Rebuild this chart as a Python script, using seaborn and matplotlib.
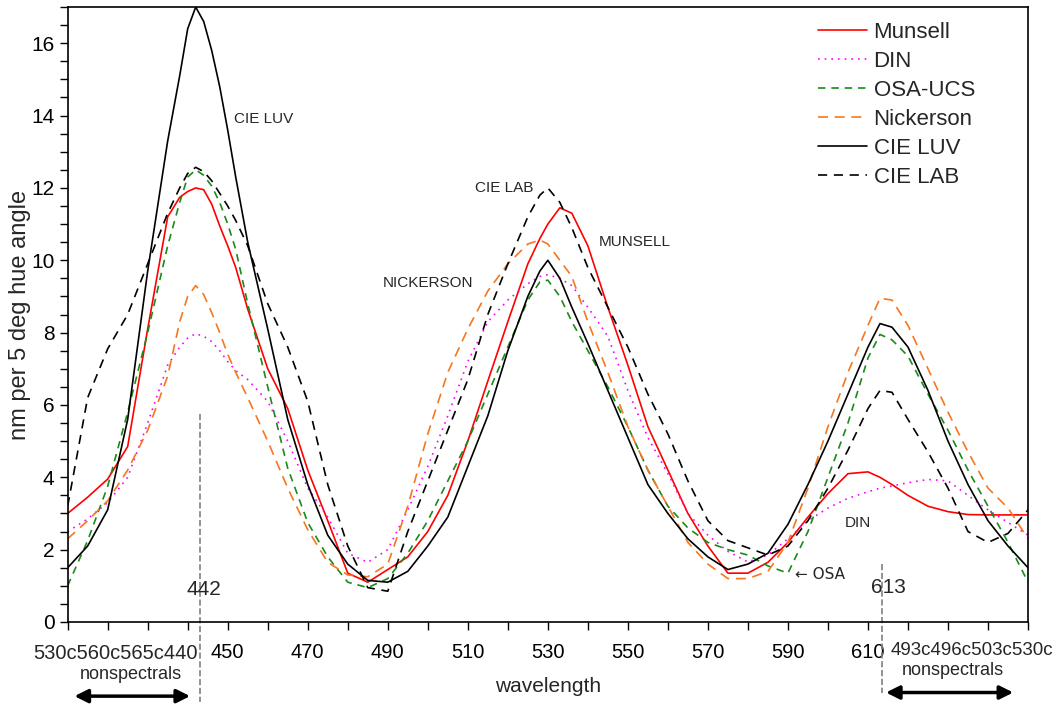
import numpy as np
import pandas as pd
import seaborn as sns
import matplotlib.pyplot as plt
from matplotlib.ticker import MultipleLocator

sns.set_style('ticks')
plt.rcParams['font.family'] = ['Liberation Sans', 'DejaVu Sans']

# wavelength grid (nm) the curves were read at
wavelength = [410, 415, 420, 425, 430, 435, 438, 440, 442, 444, 446, 448, 450, 452, 455, 460,
              465, 470, 475, 480, 485, 490, 495, 500, 505, 510, 515, 520, 525, 528, 530,
              533, 536, 540, 545, 550, 555, 560, 565, 570, 575, 580, 585, 590, 595, 600,
              605, 610, 613, 616, 620, 625, 630, 635, 640, 645, 650]

munsell = [3.0, 3.45, 3.95, 4.85, 8.1, 11.2, 11.74, 11.9, 12.0, 11.95, 11.55, 10.95, 10.4, 9.8, 8.65, 7.0,
           5.9, 4.2, 2.8, 1.35, 1.1, 1.45, 1.8, 2.5, 3.5, 5.0, 6.66, 8.3, 9.9, 10.6, 11.0,
           11.45, 11.3, 10.4, 8.7, 7.1, 5.4, 4.2, 3.0, 2.1, 1.35, 1.35, 1.65, 2.2, 2.9, 3.55,
           4.1, 4.15, 4.0, 3.8, 3.5, 3.2, 3.05, 2.97, 2.96, 2.96, 2.96]

din = [2.5, 2.85, 3.3, 4.0, 5.5, 7.1, 7.6, 7.85, 7.97, 7.9, 7.75, 7.5, 7.2, 6.95, 6.7, 6.1,
       5.0, 3.7, 2.9, 1.9, 1.65, 2.0, 3.1, 4.3, 5.7, 7.2, 8.3, 8.9, 9.35, 9.55, 9.6,
       9.5, 9.3, 8.7, 7.9, 6.4, 5.1, 4.1, 3.0, 2.4, 1.95, 1.66, 1.85, 2.3, 2.8, 3.15,
       3.42, 3.6, 3.7, 3.76, 3.85, 3.94, 3.9, 3.5, 3.1, 2.75, 2.4]

osa_ucs = [1.0, 2.25, 3.75, 5.8, 8.0, 10.4, 11.6, 12.3, 12.5, 12.35, 12.05, 11.6, 11.0, 10.3, 8.8, 6.5,
           4.25, 2.75, 1.8, 1.1, 0.95, 1.2, 1.9, 2.8, 3.9, 5.0, 6.3, 7.6, 8.9, 9.4, 9.45,
           9.0, 8.3, 7.5, 6.5, 5.4, 4.2, 3.2, 2.6, 2.2, 2.0, 1.85, 1.55, 1.35, 2.5, 4.0,
           5.5, 7.3, 7.95, 7.8, 7.35, 6.3, 5.3, 4.2, 3.2, 2.2, 1.1]

nickerson = [2.3, 2.8, 3.35, 4.2, 5.3, 6.8, 8.3, 9.0, 9.3, 9.05, 8.55, 8.0, 7.4, 6.9, 6.2, 5.0,
             3.7, 2.55, 1.65, 1.3, 1.25, 1.6, 3.2, 5.2, 6.9, 8.1, 9.15, 9.9, 10.45, 10.56, 10.45,
             10.0, 9.55, 8.3, 6.9, 5.4, 4.2, 3.2, 2.2, 1.6, 1.2, 1.2, 1.4, 2.2, 3.7, 5.4,
             6.9, 8.2, 8.95, 8.9, 8.2, 7.0, 5.8, 4.7, 3.7, 3.15, 2.3]

cie_luv = [1.5, 2.1, 3.1, 5.6, 9.7, 13.3, 15.1, 16.4, 17.0, 16.6, 15.8, 14.8, 13.6, 12.3, 10.5, 8.1,
           5.6, 3.8, 2.4, 1.6, 1.15, 1.1, 1.4, 2.1, 2.9, 4.3, 5.7, 7.5, 9.0, 9.7, 10.0,
           9.5, 8.7, 7.7, 6.4, 5.1, 3.8, 3.0, 2.3, 1.8, 1.45, 1.6, 1.9, 2.7, 3.8, 5.0,
           6.3, 7.6, 8.25, 8.15, 7.6, 6.4, 5.0, 3.8, 2.8, 2.1, 1.5]

cie_lab = [3.2, 6.2, 7.55, 8.5, 9.9, 11.3, 12.0, 12.4, 12.57, 12.45, 12.2, 11.85, 11.5, 11.1, 10.4, 8.8,
           7.6, 6.1, 3.8, 2.1, 0.95, 0.85, 2.5, 3.9, 5.3, 6.7, 8.5, 9.9, 11.2, 11.8, 12.0,
           11.6, 10.9, 9.8, 8.7, 7.6, 6.3, 5.2, 3.9, 2.8, 2.25, 2.05, 1.85, 2.1, 2.8, 3.7,
           4.75, 5.9, 6.4, 6.35, 5.6, 4.7, 3.7, 2.5, 2.2, 2.45, 3.1]

series = ['Munsell', 'DIN', 'OSA-UCS', 'Nickerson', 'CIE LUV', 'CIE LAB']
values = [munsell, din, osa_ucs, nickerson, cie_luv, cie_lab]
colors = ['#ff0000', '#ff00ff', '#1a8a1a', '#f7761e', '#000000', '#000000']
dashes = [None, (1, 3), (4.5, 3.5), (6, 4), None, (5.5, 4)]

fig, ax = plt.subplots(figsize=(10.57, 7.06), dpi=100)
fig.subplots_adjust(left=0.064, right=0.9726, bottom=0.119, top=0.990)

for name, vals, col, dsh in zip(series, values, colors, dashes):
    df = pd.DataFrame({'wavelength': wavelength, 'value': vals})
    sns.lineplot(data=df, x='wavelength', y='value', color=col, lw=1.2,
                 label=name, ax=ax, estimator=None)
    if dsh is not None:
        ax.get_lines()[-1].set_dashes(dsh)

ax.set_xlim(410, 650)
ax.set_ylim(0, 17)
xt = np.arange(410, 651, 10)
ax.set_xticks(xt)
ax.set_xticklabels([str(v) if (450 <= v <= 610 and (v - 450) % 20 == 0) else '' for v in xt])
ax.set_yticks(np.arange(0, 17, 2))
ax.yaxis.set_minor_locator(MultipleLocator(0.5))
ax.tick_params(axis='both', which='both', direction='out', length=6, width=1, colors='black')
ax.tick_params(axis='x', labelsize=14.5, pad=9)
ax.tick_params(axis='y', labelsize=15)
for s in ax.spines.values():
    s.set_color('black')
    s.set_linewidth(1.2)

ax.set_xlabel('wavelength', fontsize=15)
ax.xaxis.set_label_coords(0.5, -0.09)
ax.set_ylabel('nm per 5 deg hue angle', fontsize=17, labelpad=0)

# extra axis texts for the nonspectral ends
ax.text(442.5, -0.6, '530c560c565c440', fontsize=14.5, ha='right', va='top', clip_on=False)
ax.text(635.9, -0.55, '493c496c503c530c', fontsize=13.5, ha='center', va='top', clip_on=False)
ax.text(425.8, -1.45, 'nonspectrals', fontsize=13, ha='center', va='center', clip_on=False)
ax.text(631.2, -1.35, 'nonspectrals', fontsize=13, ha='center', va='center', clip_on=False)
ax.annotate('', xy=(411.0, -2.05), xytext=(441.3, -2.05), annotation_clip=False,
            arrowprops=dict(arrowstyle='<|-|>', color='black', lw=2.5, mutation_scale=20))
ax.annotate('', xy=(613.8, -1.95), xytext=(647.0, -1.95), annotation_clip=False,
            arrowprops=dict(arrowstyle='<|-|>', color='black', lw=2.5, mutation_scale=20))

# dominant wavelength markers
ax.plot([443.0, 443.0], [5.75, -2.2], ls='--', color='#808080', lw=1.2, clip_on=False)
ax.plot([613.4, 613.4], [1.6, -1.95], ls='--', color='#808080', lw=1.2, clip_on=False)
ax.text(444.0, 0.9, '442', fontsize=15, ha='center', va='center')
ax.text(615.0, 0.95, '613', fontsize=15, ha='center', va='center')

# curve labels
ax.text(451.5, 13.9, 'CIE LUV', fontsize=11, va='center')
ax.text(511.8, 12.0, 'CIE LAB', fontsize=11, va='center')
ax.text(542.7, 10.5, 'MUNSELL', fontsize=11, va='center')
ax.text(488.8, 9.37, 'NICKERSON', fontsize=11, va='center')
ax.text(604.1, 2.75, 'DIN', fontsize=11, va='center')
ax.text(591.8, 1.3, '← OSA', fontsize=11, va='center', family=['DejaVu Sans'])

ax.legend(loc='upper left', bbox_to_anchor=(0.772, 0.99), frameon=False, fontsize=16,
          handlelength=2.2, labelspacing=0.36, borderaxespad=0, borderpad=0.4,
          handletextpad=0.3)

plt.savefig('out.png', dpi=100)
